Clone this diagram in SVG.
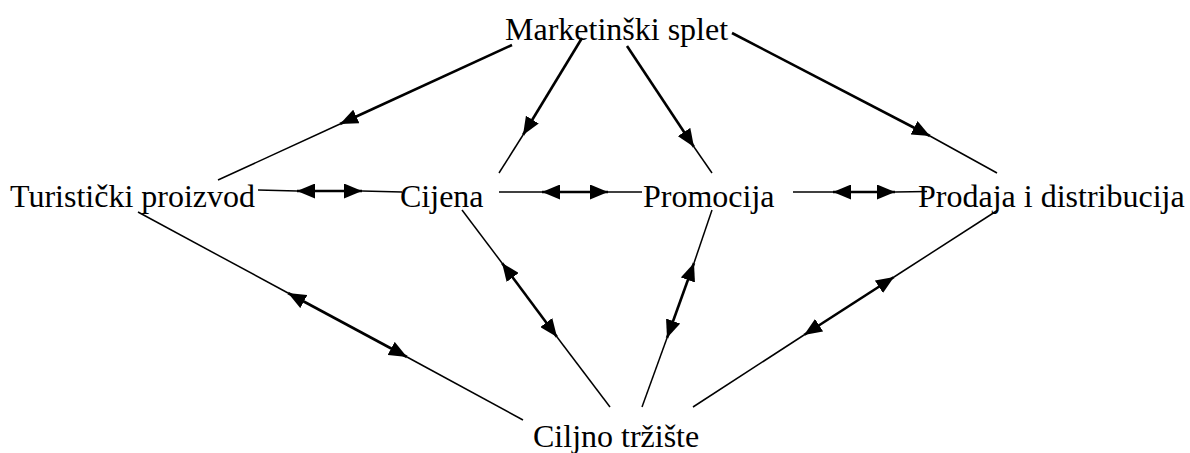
<svg xmlns="http://www.w3.org/2000/svg" width="1190" height="453" viewBox="0 0 1190 453">
<style>
.lbl{font-family:"Liberation Serif","Times New Roman",serif;font-size:32px;fill:#000}
.thin{stroke:#000;stroke-width:1.5;fill:none}
.thick{stroke:#000;stroke-width:2.6;fill:none}
.one{marker-end:url(#ah)}
.two{marker-start:url(#ah);marker-end:url(#ah)}
</style>
<defs>
<marker id="ah" markerUnits="userSpaceOnUse" markerWidth="19" markerHeight="15" viewBox="0 0 19 15" refX="18" refY="7.5" orient="auto-start-reverse">
<path d="M0,0 L18,7.5 L0,15 Z" fill="#000"/>
</marker>
</defs>
<rect width="1190" height="453" fill="#fff"/>
<g id="connectors">
<line class="thick one" x1="512" y1="45" x2="340" y2="124"/>
<line class="thin" x1="340" y1="124" x2="218" y2="180"/>
<line class="thick one" x1="582" y1="38" x2="523" y2="135"/>
<line class="thin" x1="523" y1="135" x2="499" y2="173"/>
<line class="thick one" x1="627" y1="46" x2="694" y2="147"/>
<line class="thin" x1="694" y1="147" x2="712" y2="173"/>
<line class="thick one" x1="732" y1="33" x2="930" y2="136"/>
<line class="thin" x1="930" y1="136" x2="997" y2="173"/>
<line class="thin" x1="258" y1="190" x2="297" y2="191"/>
<line class="thick two" x1="297" y1="191" x2="362" y2="191"/>
<line class="thin" x1="362" y1="191" x2="402" y2="192"/>
<line class="thin" x1="499" y1="192" x2="542" y2="192"/>
<line class="thick two" x1="542" y1="192" x2="608" y2="192"/>
<line class="thin" x1="608" y1="192" x2="642" y2="192"/>
<line class="thin" x1="793" y1="192" x2="833" y2="192"/>
<line class="thick two" x1="833" y1="192" x2="895" y2="192"/>
<line class="thin" x1="895" y1="192" x2="927" y2="191.5"/>
<line class="thin" x1="138" y1="212" x2="288" y2="293"/>
<line class="thick two" x1="288" y1="293" x2="407" y2="357"/>
<line class="thin" x1="407" y1="357" x2="523" y2="420"/>
<line class="thin" x1="462" y1="210" x2="502" y2="263"/>
<line class="thick two" x1="502" y1="263" x2="557" y2="337"/>
<line class="thin" x1="557" y1="337" x2="610" y2="407"/>
<line class="thin" x1="712" y1="210" x2="694" y2="263"/>
<line class="thick two" x1="694" y1="263" x2="667" y2="338"/>
<line class="thin" x1="667" y1="338" x2="642" y2="407"/>
<line class="thin" x1="998" y1="210" x2="894" y2="277"/>
<line class="thick two" x1="894" y1="277" x2="804" y2="335"/>
<line class="thin" x1="804" y1="335" x2="693" y2="407"/>
</g>
<g id="marketinski-splet"><text class="lbl" x="505" y="40">Marketinški splet</text></g>
<g id="turisticki-proizvod"><text class="lbl" x="10" y="207">Turistički proizvod</text></g>
<g id="cijena"><text class="lbl" x="400" y="207">Cijena</text></g>
<g id="promocija"><text class="lbl" x="643" y="207">Promocija</text></g>
<g id="prodaja-i-distribucija"><text class="lbl" x="918" y="207">Prodaja i distribucija</text></g>
<g id="ciljno-trziste"><text class="lbl" x="533" y="447">Ciljno tržište</text></g>
</svg>
